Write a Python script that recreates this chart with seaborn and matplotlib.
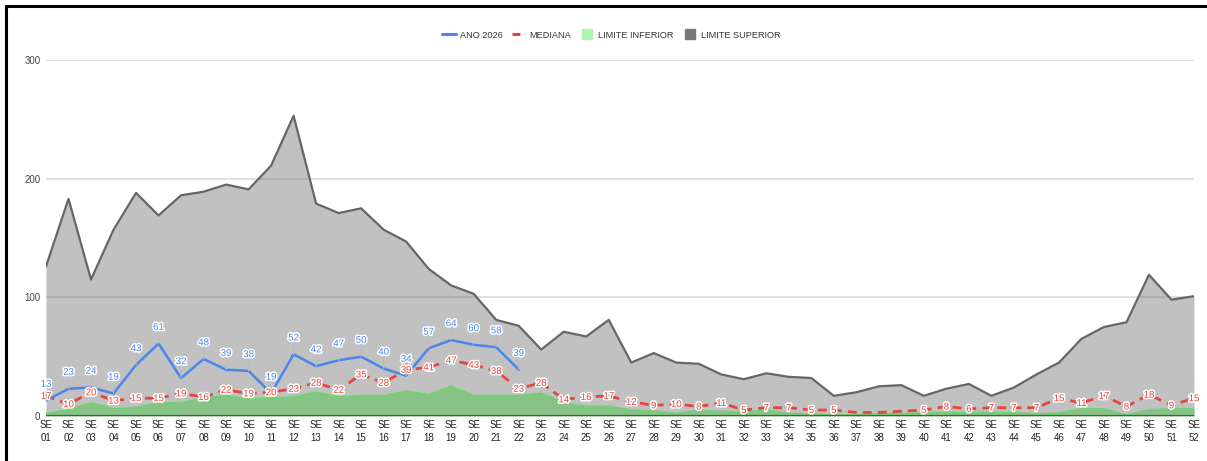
import numpy as np
import pandas as pd
import matplotlib
matplotlib.use("Agg")
import matplotlib.pyplot as plt
import matplotlib.patheffects as pe
from matplotlib.lines import Line2D
import seaborn as sns

# ---------------- data ----------------
weeks = [f"SE\n{i:02d}" for i in range(1, 53)]

ano_2026 = [13, 23, 24, 19, 43, 61, 32, 48, 39, 38, 19, 52, 42, 47, 50, 40, 34,
            57, 64, 60, 58, 39]

mediana = [17, 10, 20, 13, 15, 15, 19, 16, 22, 19, 20, 23, 28, 22, 35, 28, 39,
           41, 47, 43, 38, 23, 28, 14, 16, 17, 12, 9, 10, 8, 11, 5, 7, 7, 5, 5,
           3, 3, 4, 5, 8, 6, 7, 7, 7, 15, 11, 17, 8, 18, 9, 15]
mediana_labeled = [True] * 36 + [False, False, False] + [True] * 13

limite_inferior = [2, 5, 11, 6, 7, 11, 11, 15, 17, 14, 15, 16, 20, 16, 17, 17,
                   21, 18, 25, 17, 17, 17, 19, 11, 8, 8, 5, 4, 2, 4.5, 3.6, 3,
                   4.8, 2, 1.7, 0.5, 0.8, 1.6, 2, 2.5, 2.8, 2.8, 3, 2.5, 1.6,
                   2.5, 5.8, 5.8, 0.8, 5, 5.8, 5.8]

limite_superior = [126, 183, 115, 157, 188, 169, 186, 189, 195, 191, 211, 253,
                   179, 171, 175, 157, 147, 124, 110, 103, 81, 76, 56, 71, 67,
                   81, 45, 53, 45, 44, 35, 31, 36, 33, 32, 17, 20, 25, 26, 17,
                   23, 27, 17, 24, 35, 45, 65, 75, 79, 119, 98, 101]

y_ticks = [0, 100, 200, 300]

# ---------------- style ----------------
sns.set_theme(style="white")
plt.rcParams["font.family"] = ["Liberation Sans", "DejaVu Sans"]

BLUE = "#4a86ec"
RED = "#e8453c"
GREEN_FILL = "#87c387"
GREEN_LINE = "#6fd36f"
GREEN_SWATCH = "#adf7ad"
GREY_LINE = "#666666"
GREY_SWATCH = "#777777"
FS = 7.0

fig = plt.figure(figsize=(12.07, 4.61), dpi=100)
ax = fig.add_axes([46 / 1207, 45 / 461, (1194 - 46) / 1207, (416 - 60) / 461])

x = np.arange(len(weeks))

ax.set_ylim(0, 300)
ax.set_xlim(0, len(weeks) - 1)
ax.set_yticks(y_ticks)
ax.yaxis.grid(True, color="#e0e0e0", lw=1.4, zorder=0)
ax.set_axisbelow(True)

# areas
ax.fill_between(x, 0, limite_superior, color=GREY_LINE, alpha=0.4, lw=0, zorder=1)
sns.lineplot(x=x, y=limite_superior, ax=ax, color=GREY_LINE, lw=1.6, zorder=2)
ax.fill_between(x, 0, limite_inferior, color=GREEN_FILL, lw=0, zorder=3)
sns.lineplot(x=x, y=limite_inferior, ax=ax, color=GREEN_LINE, lw=1.4, zorder=4)

ax.axhline(0, color="#555555", lw=1.6, zorder=5)

# lines
df_med = pd.DataFrame({"x": x, "y": mediana})
sns.lineplot(data=df_med, x="x", y="y", ax=ax, color=RED, lw=2.0,
             linestyle=(0, (3.2, 2.2)), zorder=6)
df_ano = pd.DataFrame({"x": x[:len(ano_2026)], "y": ano_2026})
sns.lineplot(data=df_ano, x="x", y="y", ax=ax, color=BLUE, lw=1.8, zorder=7)

halo = [pe.withStroke(linewidth=2.2, foreground="white")]

for xi, v, show in zip(x, mediana, mediana_labeled):
    if show:
        ax.text(xi, v, str(v), color=RED, fontsize=FS, ha="center", va="center",
                path_effects=halo, zorder=8)

for xi, v in zip(x, ano_2026):
    ax.annotate(str(v), xy=(xi, v), xytext=(0, 8.5), textcoords="offset points",
                ha="center", va="bottom", color=BLUE, fontsize=FS,
                path_effects=halo, zorder=9,
                arrowprops=dict(arrowstyle="-", color="#bbbbbb", lw=0.8,
                                shrinkA=0, shrinkB=0))

ax.set_xticks(x)
ax.set_xticklabels(weeks, fontsize=FS, color="#222222", linespacing=1.3)
ax.set_yticklabels([str(t) for t in y_ticks], fontsize=FS, color="#444444")
ax.tick_params(axis="both", length=0, pad=4)
ax.tick_params(axis="x", pad=3)
ax.set_xlabel("")
ax.set_ylabel("")
for s in ax.spines.values():
    s.set_visible(False)
ax.legend_ = None

# legend
handles = [
    Line2D([], [], color=BLUE, lw=2.2),
    Line2D([], [], color=RED, lw=2.2, linestyle=(0, (2.6, 1.6))),
    Line2D([], [], marker="s", linestyle="none", markersize=7,
           markerfacecolor=GREEN_SWATCH, markeredgecolor=GREEN_SWATCH),
    Line2D([], [], marker="s", linestyle="none", markersize=7,
           markerfacecolor=GREY_SWATCH, markeredgecolor=GREY_SWATCH),
]
labels = ["ANO 2026", "MEDIANA", "LIMITE INFERIOR", "LIMITE SUPERIOR"]
fig.legend(handles, labels, loc="center", bbox_to_anchor=(611 / 1207, 1 - 35 / 461),
           ncol=4, frameon=False, fontsize=6.6, handlelength=1.5,
           handletextpad=0.45, columnspacing=1.0, labelcolor="#333333")

# frame lines (left and top)
fig.add_artist(Line2D([6 / 1207, 6 / 1207], [0, 1 - 6 / 461], color="black",
                      lw=2.2, transform=fig.transFigure))
fig.add_artist(Line2D([6 / 1207, 1], [1 - 6 / 461, 1 - 6 / 461], color="black",
                      lw=2.2, transform=fig.transFigure))

fig.savefig("out.png", dpi=100, facecolor="white")
